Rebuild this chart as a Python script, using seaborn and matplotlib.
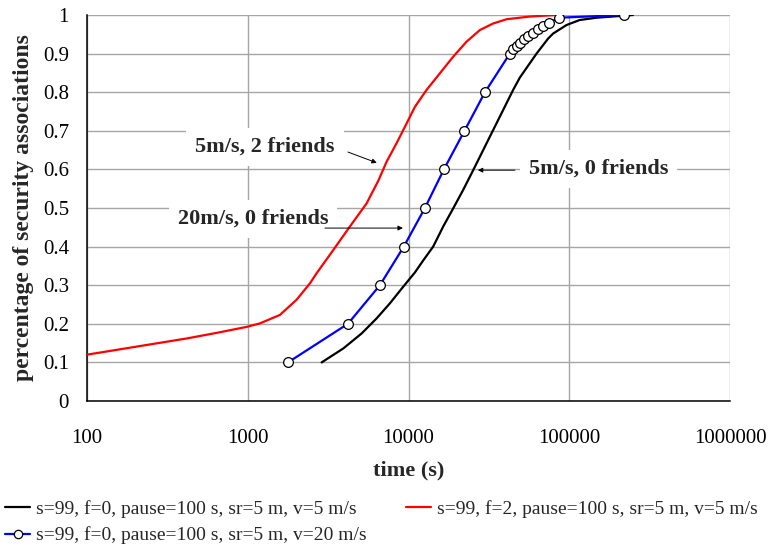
import numpy as np
import pandas as pd
import matplotlib
matplotlib.use("Agg")
import matplotlib.pyplot as plt
import seaborn as sns
from matplotlib.lines import Line2D

# ---- data ----
black_t = [2882, 3926, 5110, 6333, 7661, 9269, 10960, 12340, 14240, 16440, 18970,
           21890, 25260, 29150, 33630, 38810, 44780, 49300, 62600, 73900,
           79400, 96200, 116000, 148000, 249000]
black_p = [0.10, 0.136, 0.175, 0.214, 0.253, 0.296, 0.333, 0.364, 0.40, 0.452, 0.499,
           0.547, 0.598, 0.650, 0.702, 0.754, 0.806, 0.838, 0.90, 0.939,
           0.952, 0.974, 0.987, 0.993, 1.0]

blue_t = [1780, 4200, 6640, 9350, 12650, 16600, 22300, 29900, 42700, 44800, 47000,
          49300, 52200, 55500, 59700, 64000, 68800, 74700, 86500, 218600]
blue_p = [0.1, 0.2, 0.3, 0.4, 0.5, 0.6, 0.7, 0.8, 0.9, 0.911, 0.92,
          0.928, 0.937, 0.946, 0.954, 0.963, 0.972, 0.98, 0.993, 1.0]

red_t = [100, 417, 650, 984, 1190, 1585, 2010, 2440, 2682, 3402, 4320, 5489, 6480,
         7309, 8434, 9732, 10960, 12960, 15680, 18970, 22980, 27800, 33630, 40750,
         56900, 83300]
red_p = [0.12, 0.162, 0.177, 0.192, 0.201, 0.223, 0.262, 0.305, 0.331, 0.391, 0.452,
         0.512, 0.570, 0.620, 0.668, 0.719, 0.762, 0.806, 0.849, 0.892, 0.931, 0.961,
         0.978, 0.989, 0.996, 1.0]

labels = ["s=99, f=0, pause=100 s, sr=5 m, v=5 m/s",
          "s=99, f=0, pause=100 s, sr=5 m, v=20 m/s",
          "s=99, f=2, pause=100 s, sr=5 m, v=5 m/s"]
x_ticks = [100, 1000, 10000, 100000, 1000000]
x_ticklabels = ["100", "1000", "10000", "100000", "1000000"]
y_ticks = [0, 0.1, 0.2, 0.3, 0.4, 0.5, 0.6, 0.7, 0.8, 0.9, 1.0]
y_ticklabels = ["0", "0.1", "0.2", "0.3", "0.4", "0.5", "0.6", "0.7", "0.8", "0.9", "1"]

sns.set_theme(style="white")
plt.rcParams['font.family'] = ['Liberation Serif', 'DejaVu Serif']

fig = plt.figure(figsize=(7.74, 5.47), dpi=100)
W, H = 774, 547
ax = fig.add_axes([87 / W, 1 - 401 / H, (730 - 87) / W, (401 - 15) / H])

lw = 1.6
sns.lineplot(x=black_t, y=black_p, color="black", lw=lw, ax=ax, estimator=None,
             sort=False, zorder=3)
sns.lineplot(x=blue_t, y=blue_p, color="#0000ff", lw=lw, ax=ax, estimator=None,
             sort=False, marker="o", markersize=7, markerfacecolor="white",
             markeredgecolor="black", markeredgewidth=0.9, zorder=4)
sns.lineplot(x=red_t, y=red_p, color="#ff0000", lw=lw, ax=ax, estimator=None,
             sort=False, zorder=3)

ax.set_xscale("log")
ax.set_xlim(100, 1000000)
ax.set_ylim(0, 1)
ax.set_xticks(x_ticks)
ax.set_xticklabels(x_ticklabels)
ax.xaxis.set_minor_locator(matplotlib.ticker.NullLocator())
ax.set_yticks(y_ticks)
ax.set_yticklabels(y_ticklabels)

ax.grid(True, color="#a6a6a6", lw=1.0)
ax.set_axisbelow(True)
for s in ["top", "right"]:
    ax.spines[s].set_visible(False)
for s in ["left", "bottom"]:
    ax.spines[s].set_color("black")
    ax.spines[s].set_linewidth(1.1)
ax.tick_params(axis="both", which="major", direction="out", length=5, width=1.0,
               color="black", labelsize=15, labelcolor="black")
ax.tick_params(axis="x", pad=15)
ax.tick_params(axis="y", pad=8)

ax.set_xlabel("time (s)", fontsize=16, fontweight="bold", labelpad=9)
ax.set_ylabel("percentage of security associations", fontsize=17,
              fontweight="bold", labelpad=6)

# annotations
box = dict(boxstyle="square,pad=0.4", fc="white", ec="none")
ax.text(1280, 0.658, "5m/s, 2 friends", fontsize=16, fontweight="bold",
        ha="center", va="center", bbox=box, zorder=2)
ax.text(1077, 0.4715, "20m/s, 0 friends", fontsize=16, fontweight="bold",
        ha="center", va="center", bbox=box, zorder=2)
ax.text(152700, 0.601, "5m/s, 0 friends", fontsize=16, fontweight="bold",
        ha="center", va="center", bbox=box, zorder=2)
ap = dict(arrowstyle="-|>", color="black", lw=0.7, mutation_scale=7,
          shrinkA=0, shrinkB=0)
ax.annotate("", xy=(6350, 0.617), xytext=(4200, 0.645), arrowprops=ap, zorder=5)
ax.annotate("", xy=(9230, 0.448), xytext=(3020, 0.448), arrowprops=ap, zorder=5)
ax.annotate("", xy=(27000, 0.598), xytext=(45900, 0.598), arrowprops=ap, zorder=5)

handles = [
    Line2D([], [], color="black", lw=lw),
    Line2D([], [], color="#0000ff", lw=lw, marker="o", markersize=6,
           markerfacecolor="white", markeredgecolor="black", markeredgewidth=0.9),
    Line2D([], [], color="#ff0000", lw=lw),
]
fig.legend(handles, labels, ncol=2, loc="upper left",
           bbox_to_anchor=(5 / W, 1 - 500 / H), frameon=False, fontsize=14,
           handlelength=1.3, handletextpad=0.3, columnspacing=2.0,
           labelspacing=0.45, borderpad=0, borderaxespad=0, numpoints=1)

fig.savefig("out.png", dpi=100)
